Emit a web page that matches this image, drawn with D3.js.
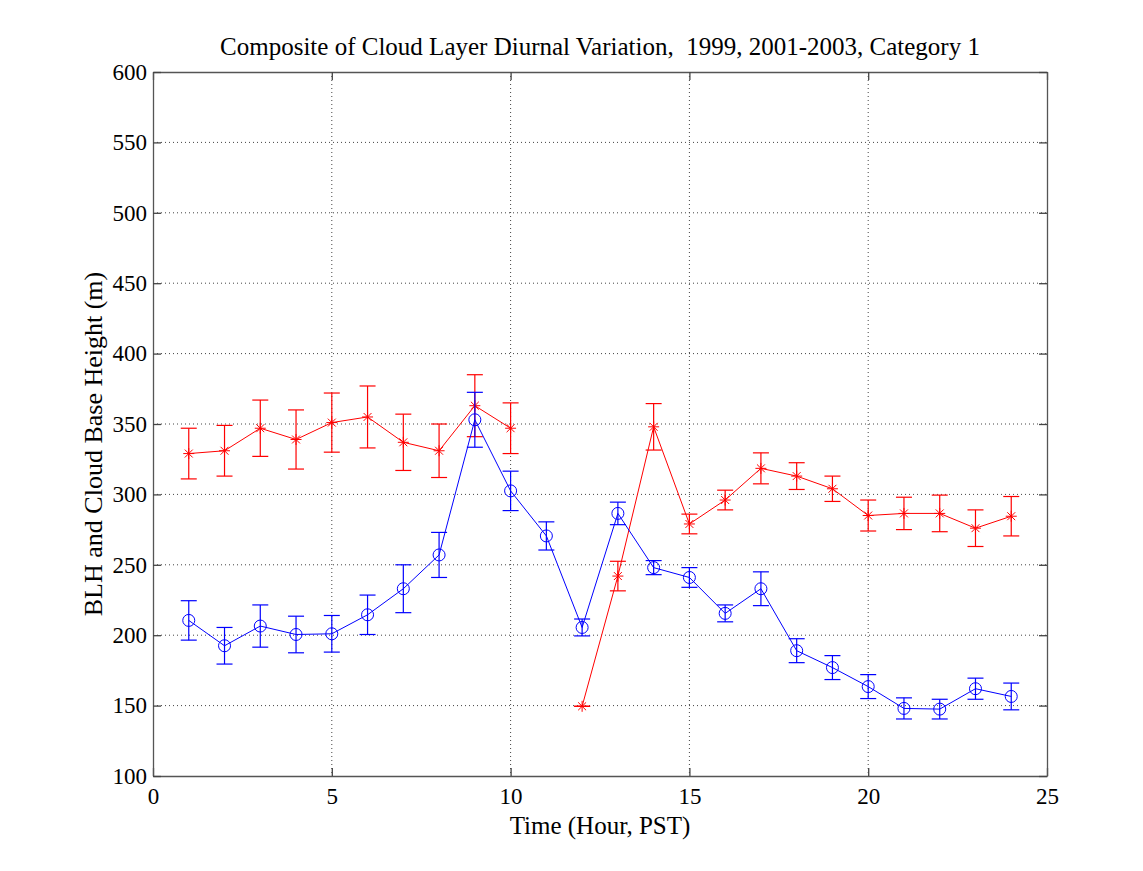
<!DOCTYPE html>
<html>
<head>
<meta charset="utf-8">
<script src="https://cdnjs.cloudflare.com/ajax/libs/d3/7.8.5/d3.min.js"></script>
<style>
    body { margin: 0; background: #fff; }
    svg { display: block; }
    text { font-family: "Liberation Serif", "Times New Roman", serif; fill: #000; }
</style>
</head>
<body>
<div id="chart"></div>
<script>
// hours of the day (x)
const hours = [1, 2, 3, 4, 5, 6, 7, 8, 9, 10, 11, 12, 13, 14, 15, 16, 17, 18, 19, 20, 21, 22, 23, 24];

// red series (*) with error half-widths, no value at hour 11
const redValues = [329, 331, 347, 339, 351, 355, 337, 331, 363, 347, null, 149.5,
    242, 348, 279, 296, 318.5, 313, 304, 285, 286.5, 286.5, 276, 284.5];
const redErrors = [18, 18, 20, 21, 21, 22, 20, 19, 22, 18, null, 0,
    10.5, 16.5, 7, 7, 11, 9.5, 9, 11, 11.5, 13, 13, 14];

// blue series (o) with error half-widths
const blueValues = [210.5, 192.5, 206.5, 200.5, 201, 214.5, 233, 257, 353, 302.5, 270.5, 205.5,
    286.5, 248, 241, 215.5, 233, 189, 177, 163.5, 148, 147.5, 162, 156.5];
const blueErrors = [14, 13, 15, 13, 13, 14, 17, 16, 19.5, 14, 10, 6,
    8, 5, 7, 6, 12, 8.5, 8.5, 8.5, 7.5, 7, 7.5, 9.5];

const xTicks = [0, 5, 10, 15, 20, 25];
const yTicks = [100, 150, 200, 250, 300, 350, 400, 450, 500, 550, 600];

const title = 'Composite of Cloud Layer Diurnal Variation,  1999, 2001-2003, Category 1';
const xLabel = 'Time (Hour, PST)';
const yLabel = 'BLH and Cloud Base Height (m)';

const W = 1143, H = 871;
const margin = { top: 72, right: 96, bottom: 95, left: 153 };
const width = W - margin.left - margin.right;
const height = H - margin.top - margin.bottom;

const svg = d3.select('#chart').append('svg')
    .attr('width', W)
    .attr('height', H);

const g = svg.append('g')
    .attr('transform', `translate(${margin.left},${margin.top})`);

const x = d3.scaleLinear().domain([0, 25]).range([0, width]);
const y = d3.scaleLinear().domain([100, 600]).range([height, 0]);

// grid
g.append('g')
    .selectAll('line')
    .data(xTicks.slice(1, -1))
    .enter().append('line')
    .attr('x1', d => x(d)).attr('x2', d => x(d))
    .attr('y1', 0).attr('y2', height)
    .attr('stroke', '#444')
    .attr('stroke-width', 1)
    .attr('stroke-dasharray', '1,3');

g.append('g')
    .selectAll('line')
    .data(yTicks.slice(1, -1))
    .enter().append('line')
    .attr('x1', 0).attr('x2', width)
    .attr('y1', d => y(d)).attr('y2', d => y(d))
    .attr('stroke', '#444')
    .attr('stroke-width', 1)
    .attr('stroke-dasharray', '1,3');

// axes (ticks inside, box on all sides)
const tickLen = 8;
const fmt = d3.format('d');

const xAxis = g.append('g')
    .attr('transform', `translate(0,${height})`)
    .call(d3.axisBottom(x).tickValues(xTicks).tickFormat(fmt).tickSizeInner(-tickLen).tickSizeOuter(0).tickPadding(12));
const xAxisTop = g.append('g')
    .call(d3.axisTop(x).tickValues(xTicks).tickFormat('').tickSizeInner(-tickLen).tickSizeOuter(0));
const yAxis = g.append('g')
    .call(d3.axisLeft(y).tickValues(yTicks).tickFormat(fmt).tickSizeInner(-tickLen).tickSizeOuter(0).tickPadding(6));
const yAxisRight = g.append('g')
    .attr('transform', `translate(${width},0)`)
    .call(d3.axisRight(y).tickValues(yTicks).tickFormat('').tickSizeInner(-tickLen).tickSizeOuter(0));

[xAxis, xAxisTop, yAxis, yAxisRight].forEach(a => {
    a.select('.domain').attr('stroke', '#555').attr('stroke-width', 1.3);
    a.selectAll('.tick line').attr('stroke', '#444').attr('stroke-width', 1.3);
    a.selectAll('text')
        .style('font-family', '"Liberation Serif", "Times New Roman", serif')
        .style('font-size', '23px')
        .attr('fill', '#000');
});
xAxis.selectAll('text').attr('dy', '0.71em');

// series
function drawSeries(values, errors, color, marker) {
    const data = hours.map((h, i) => ({ h, v: values[i], e: errors[i] }));
    const valid = data.filter(d => d.v !== null);

    const line = d3.line()
        .defined(d => d.v !== null)
        .x(d => x(d.h))
        .y(d => y(d.v));

    g.append('path')
        .datum(data)
        .attr('d', line)
        .attr('fill', 'none')
        .attr('stroke', color)
        .attr('stroke-width', 1);

    // error bars
    const cap = 8;
    const eb = g.append('g').attr('stroke', color).attr('stroke-width', 1.2);
    eb.selectAll('.stem')
        .data(valid)
        .enter().append('line')
        .attr('x1', d => x(d.h)).attr('x2', d => x(d.h))
        .attr('y1', d => y(d.v - d.e)).attr('y2', d => y(d.v + d.e));
    eb.selectAll('.capTop')
        .data(valid)
        .enter().append('line')
        .attr('x1', d => x(d.h) - cap).attr('x2', d => x(d.h) + cap)
        .attr('y1', d => y(d.v + d.e)).attr('y2', d => y(d.v + d.e));
    eb.selectAll('.capBottom')
        .data(valid)
        .enter().append('line')
        .attr('x1', d => x(d.h) - cap).attr('x2', d => x(d.h) + cap)
        .attr('y1', d => y(d.v - d.e)).attr('y2', d => y(d.v - d.e));

    // markers
    if (marker === 'circle') {
        g.append('g').selectAll('circle')
            .data(valid)
            .enter().append('circle')
            .attr('cx', d => x(d.h))
            .attr('cy', d => y(d.v))
            .attr('r', 6)
            .attr('fill', 'none')
            .attr('stroke', color)
            .attr('stroke-width', 1);
    } else {
        const s = 5.5, k = s * 0.72;
        const star = `M${-s},0L${s},0M0,${-s}L0,${s}M${-k},${-k}L${k},${k}M${-k},${k}L${k},${-k}`;
        g.append('g').selectAll('path')
            .data(valid)
            .enter().append('path')
            .attr('transform', d => `translate(${x(d.h)},${y(d.v)})`)
            .attr('d', star)
            .attr('stroke', color)
            .attr('stroke-width', 1)
            .attr('fill', 'none');
    }
}

drawSeries(redValues, redErrors, '#ff0000', 'star');
drawSeries(blueValues, blueErrors, '#0000ff', 'circle');

// labels
svg.append('text')
    .attr('x', margin.left + width / 2)
    .attr('y', 55)
    .attr('text-anchor', 'middle')
    .style('font-size', '25px')
    .style('white-space', 'pre')
    .text(title);

svg.append('text')
    .attr('x', margin.left + width / 2)
    .attr('y', 834)
    .attr('text-anchor', 'middle')
    .style('font-size', '25px')
    .text(xLabel);

svg.append('text')
    .attr('transform', 'translate(102,444) rotate(-90)')
    .attr('text-anchor', 'middle')
    .style('font-size', '26px')
    .text(yLabel);
</script>
</body>
</html>
